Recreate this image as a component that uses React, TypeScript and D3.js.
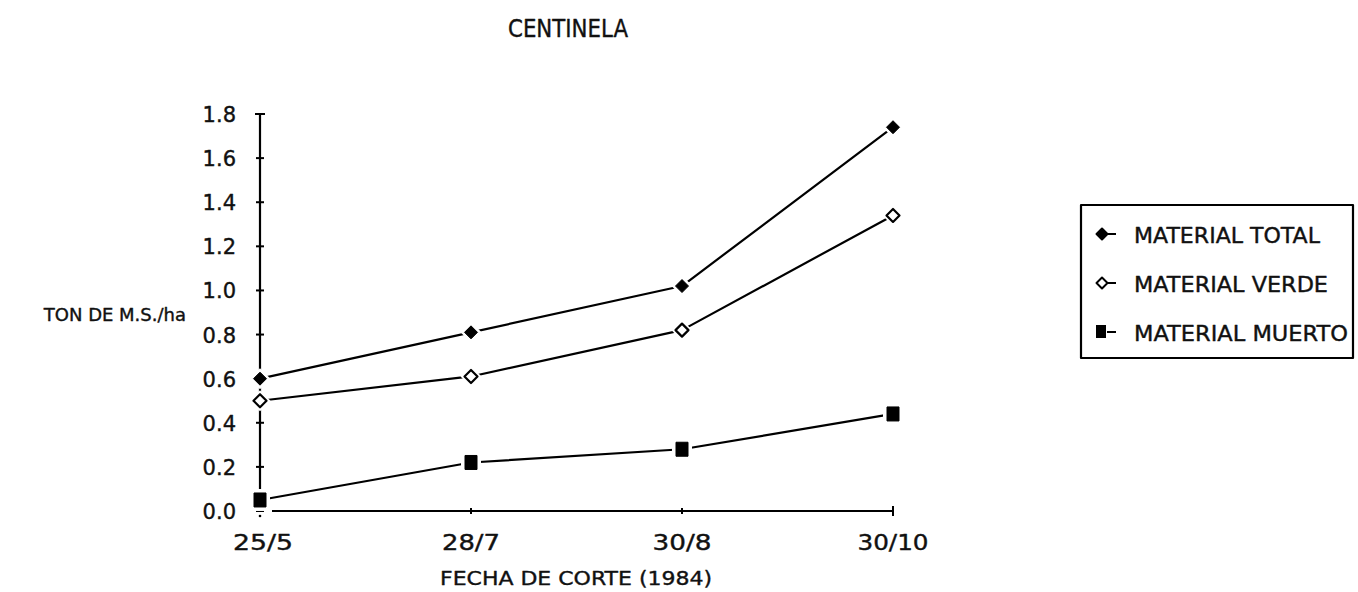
import { useRef, useEffect } from 'react';
import * as d3 from 'd3';

const fechas = ['25/5', '28/7', '30/8', '30/10'];
const total = [0.6, 0.81, 1.02, 1.74];
const verde = [0.5, 0.61, 0.82, 1.34];
const muerto = [0.05, 0.22, 0.28, 0.44];
const yTicks = [0, 0.2, 0.4, 0.6, 0.8, 1.0, 1.2, 1.4, 1.6, 1.8];
const seriesNames = ['MATERIAL TOTAL', 'MATERIAL VERDE', 'MATERIAL MUERTO'];

const FONT = "'DejaVu Sans', sans-serif";

type Kind = 'diamondFill' | 'diamondOpen' | 'square';

function markerPath(kind: Kind, cx: number, cy: number, grow = 0) {
  if (kind === 'square') {
    const hw = 6 + grow, hh = 7 + grow;
    return `M${cx - hw},${cy - hh}H${cx + hw}V${cy + hh}H${cx - hw}Z`;
  }
  const r = 6.5 + grow;
  return `M${cx},${cy - r}L${cx + r},${cy}L${cx},${cy + r}L${cx - r},${cy}Z`;
}

export default function App() {
  const svgRef = useRef<SVGSVGElement>(null);
  const width = 1358;
  const height = 592;

  useEffect(() => {
    const svg = d3.select(svgRef.current);
    svg.selectAll('*').remove();

    const x = d3.scalePoint<string>().domain(fechas).range([260, 893]);
    const y = d3.scaleLinear().domain([0, 1.8]).range([511, 114]);

    const g = svg.append('g')
      .attr('font-family', FONT).attr('fill', '#111')
      .attr('stroke-linejoin', 'round');

    const txt = (sel: d3.Selection<SVGTextElement, unknown, null, undefined>) =>
      sel.attr('stroke', '#111').attr('stroke-width', 0.4);

    // title
    g.append('text').attr('x', 508).attr('y', 37)
      .attr('font-size', 24)
      .attr('textLength', 120).attr('lengthAdjust', 'spacingAndGlyphs')
      .call(txt)
      .text('CENTINELA');

    // y axis
    const x0 = x(fechas[0])!;
    g.append('line').attr('x1', x0).attr('x2', x0)
      .attr('y1', y(1.8)).attr('y2', y(0.02))
      .attr('stroke', '#000').attr('stroke-width', 2.2);
    g.append('circle').attr('cx', x0).attr('cy', y(0) + 5).attr('r', 1.3).attr('fill', '#000');
    yTicks.forEach(t => {
      const w = t === 1.8 ? 5 : 4;
      g.append('line').attr('x1', x0 - w).attr('x2', x0 + w)
        .attr('y1', y(t)).attr('y2', y(t)).attr('stroke', '#000').attr('stroke-width', 2);
      g.append('text').attr('x', x0 - 24).attr('y', y(t) + 8)
        .attr('text-anchor', 'end').attr('font-size', 21)
        .call(txt)
        .text(t.toFixed(1));
    });

    // x axis
    g.append('line').attr('x1', x0 + 12).attr('x2', x(fechas[3])!)
      .attr('y1', y(0)).attr('y2', y(0)).attr('stroke', '#000').attr('stroke-width', 2.2);
    const labelW = [60, 58, 59, 71];
    const labelDx = [3, 0, 0, 0];
    fechas.forEach((f, i) => {
      if (i > 0) {
        const h = i === 3 ? 5 : 3;
        g.append('line').attr('x1', x(f)!).attr('x2', x(f)!)
          .attr('y1', y(0) - h).attr('y2', y(0) + h).attr('stroke', '#000').attr('stroke-width', 2);
      }
      g.append('text').attr('x', x(f)! + labelDx[i] - labelW[i] / 2).attr('y', y(0) + 39)
        .attr('font-size', 22)
        .attr('textLength', labelW[i]).attr('lengthAdjust', 'spacingAndGlyphs')
        .call(txt)
        .text(f);
    });

    g.append('text').attr('x', 440).attr('y', 585)
      .attr('font-size', 20)
      .attr('textLength', 272).attr('lengthAdjust', 'spacingAndGlyphs')
      .call(txt)
      .text('FECHA DE CORTE (1984)');

    g.append('text').attr('x', 186).attr('y', 321)
      .attr('text-anchor', 'end').attr('font-size', 18)
      .call(txt)
      .text('TON DE M.S./ha');

    // series
    const series: { vals: number[]; kind: Kind }[] = [
      { vals: total, kind: 'diamondFill' },
      { vals: verde, kind: 'diamondOpen' },
      { vals: muerto, kind: 'square' },
    ];
    const line = d3.line<number>().x((_, i) => x(fechas[i])!).y(d => y(d));

    series.forEach(s => {
      g.append('path').datum(s.vals).attr('d', line)
        .attr('fill', 'none').attr('stroke', '#000').attr('stroke-width', 2.2);
    });
    series.forEach(s => {
      s.vals.forEach((v, i) => {
        const cx = x(fechas[i])!;
        const cy = y(v);
        g.append('path').attr('d', markerPath(s.kind, cx, cy, 4)).attr('fill', '#fff');
        g.append('path').attr('d', markerPath(s.kind, cx, cy))
          .attr('fill', s.kind === 'diamondOpen' ? '#fff' : '#000')
          .attr('stroke', '#000').attr('stroke-width', s.kind === 'diamondOpen' ? 2.2 : 1);
      });
    });

    // legend
    const lg = g.append('g');
    lg.append('rect').attr('x', 1081).attr('y', 205).attr('width', 272).attr('height', 153)
      .attr('fill', 'none').attr('stroke', '#000').attr('stroke-width', 2.2);
    const legendW = [186, 194, 214];
    seriesNames.forEach((name, i) => {
      const base = 243 + i * 49;
      const my = base - 9;
      const kind = series[i].kind;
      const mx = 1102;
      lg.append('line').attr('x1', mx + 5).attr('x2', mx + 14).attr('y1', my).attr('y2', my)
        .attr('stroke', '#000').attr('stroke-width', 2);
      if (kind === 'square') {
        lg.append('rect').attr('x', mx - 6).attr('y', my - 7).attr('width', 10).attr('height', 13).attr('fill', '#000');
      } else {
        const r = 5.5;
        lg.append('path').attr('d', `M${mx},${my - r}L${mx + r},${my}L${mx},${my + r}L${mx - r},${my}Z`)
          .attr('fill', kind === 'diamondOpen' ? '#fff' : '#000')
          .attr('stroke', '#000').attr('stroke-width', 2);
      }
      lg.append('text').attr('x', 1134).attr('y', base)
        .attr('font-size', 21)
        .attr('textLength', legendW[i]).attr('lengthAdjust', 'spacingAndGlyphs')
        .call(txt)
        .text(name);
    });
  }, []);

  return (
    <svg ref={svgRef} width={width} height={height}
      style={{ display: 'block', position: 'absolute', left: 0, top: 0, background: '#fff' }} />
  );
}
